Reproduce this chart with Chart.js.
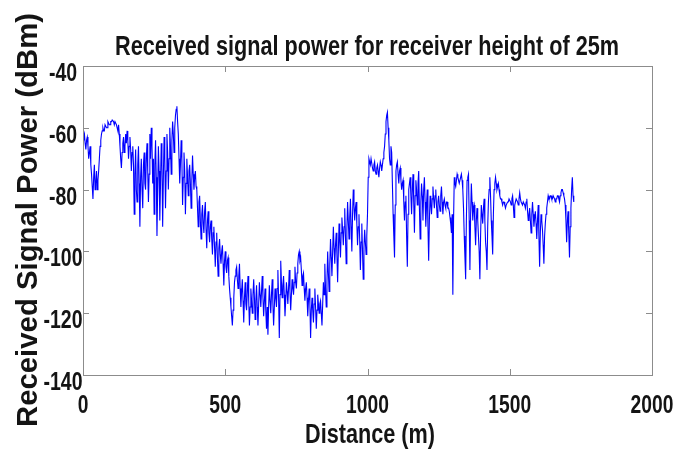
<!DOCTYPE html>
<html>
<head>
<meta charset="utf-8">
<script src="https://cdn.jsdelivr.net/npm/chart.js@4/dist/chart.umd.min.js"></script>
<style>
  html, body { margin: 0; padding: 0; background: #fff; }
  #wrap { width: 673px; height: 456px; }
</style>
</head>
<body>
<div id="wrap"><canvas id="signal"></canvas></div>
<script>
// measurement run: one sample every 2.5 m starting at 0 m
const startDistance = 0;
const sampleSpacing = 2.5;

// received power in dBm, 20 samples (50 m) per row
const receivedPower = [
  -64, -63, -62, -65, -67, -64, -63, -66, -70, -68, -66, -72, -75, -79, -83, -76, -72, -80, -78, -74,                 // 0
  -80, -77, -74, -70, -66, -64, -62, -61, -60, -61, -61, -59, -59, -60, -60, -58, -58.5, -59, -59, -58,               // 50
  -58, -57.5, -57.5, -58, -59, -58, -58, -59, -60, -61, -59, -62, -66, -70, -73, -68, -65, -63, -68, -66,             // 100
  -62, -65, -61, -64, -70, -66, -63, -67, -74, -68, -66, -72, -88, -75, -67, -80, -84, -72, -66, -78,                 // 150
  -92, -76, -70, -80, -86, -72, -68, -78, -80, -70, -65, -74, -84, -75, -62, -70, -60, -66, -78, -70,                 // 200
  -88, -72, -64, -76, -95, -80, -66, -74, -90, -78, -65, -72, -92, -76, -63, -70, -86, -74, -62, -68,                 // 250
  -80, -70, -60, -66, -75, -64, -58, -62, -68, -60, -56, -54, -53, -58, -62, -70, -78, -72, -64, -70,                 // 300
  -85, -76, -68, -74, -88, -78, -70, -76, -82, -74, -72, -78, -86, -77, -69, -75, -80, -76, -74, -79,                 // 350
  -80, -86, -92, -84, -82, -90, -96, -88, -85, -91, -94, -87, -84, -93, -99, -90, -87, -94, -97, -92,                 // 400
  -90, -96, -101, -94, -92, -99, -105, -97, -94, -102, -108, -99, -96, -101, -104, -100, -98, -104, -111, -103,       // 450
  -100, -105, -107, -103, -102, -108, -112, -115, -118, -121, -124, -119, -115, -110, -108, -106, -105, -109, -112, -108, // 500
  -104, -112, -118, -113, -109, -116, -123, -115, -110, -117, -119, -113, -108, -116, -124, -118, -112, -116, -120, -114, // 550
  -109, -115, -122, -116, -111, -118, -124, -117, -110, -114, -118, -113, -108, -115, -121, -116, -112, -119, -125, -118, // 600
  -127, -118, -111, -116, -120, -114, -109, -117, -124, -118, -112, -115, -118, -112, -106, -115, -128, -114, -103, -110, // 650
  -115, -111, -108, -114, -121, -116, -110, -113, -117, -112, -106, -113, -119, -114, -109, -112, -114, -110, -105, -110, // 700
  -112, -107, -104, -101, -100, -103, -102, -106, -111, -108, -107, -112, -116, -112, -110, -115, -121, -116, -112, -117, // 750
  -128, -119, -115, -119, -123, -117, -112, -118, -125, -119, -114, -117, -120, -117, -116, -120, -124, -117, -110, -114, // 800
  -104, -112, -118, -110, -100, -107, -113, -104, -96, -102, -108, -100, -92, -99, -104, -98, -94, -101, -110, -100,     // 850
  -91, -97, -102, -94, -89, -93, -98, -92, -86, -95, -104, -93, -84, -90, -96, -89, -83, -92, -100, -88,                // 900
  -80, -85, -90, -86, -84, -91, -98, -92, -88, -96, -106, -97, -91, -100, -109, -99, -93, -97, -101, -95,               // 950
  -88, -76, -70, -71, -72, -70, -70, -73, -74, -72, -71, -74, -75, -73, -72, -74, -76, -73, -71, -72,                   // 1000
  -74, -72, -70, -68, -66, -62, -58, -56, -55, -60, -64, -70, -72, -66, -68, -78, -88, -95, -102, -85,                  // 1050
  -74, -72, -71, -75, -78, -74, -73, -77, -80, -78, -77, -84, -90, -84, -82, -95, -105, -88, -80, -78,                  // 1100
  -76, -82, -88, -80, -75, -84, -94, -82, -77, -80, -85, -78, -74, -86, -96, -84, -78, -82, -90, -80,                   // 1150
  -76, -84, -92, -85, -80, -92, -103, -90, -82, -85, -88, -83, -79, -83, -86, -82, -80, -85, -89, -84,                  // 1200
  -82, -85, -87, -82, -79, -84, -88, -84, -83, -85, -86, -84, -84, -86, -86, -87, -89, -91, -94, -88,                   // 1250
  -114, -90, -76, -78, -79, -77, -75, -76, -77, -78, -78, -76, -75, -77, -80, -86, -95, -102, -109, -90,                // 1300
  -77, -76, -75, -90, -106, -88, -78, -84, -90, -86, -85, -92, -98, -90, -86, -90, -95, -100, -109, -95,                // 1350
  -85, -88, -91, -86, -83, -90, -97, -100, -106, -92, -84, -80, -76, -82, -90, -95, -101, -88, -80, -78,                // 1400
  -76, -78, -80, -79, -78, -80, -82, -83, -83, -84, -85, -84, -84, -85, -86, -85, -85, -84, -84, -83,                   // 1450
  -83, -84, -85, -83, -82, -85, -89, -85, -84, -83, -83, -84, -85, -83, -81, -83, -84, -84, -85, -84,                   // 1500
  -84, -85, -86, -84, -83, -87, -90, -88, -86, -90, -94, -88, -84, -88, -92, -89, -87, -91, -96, -90,                   // 1550
  -85, -95, -105, -94, -88, -90, -93, -98, -104, -95, -91, -88, -86, -84, -82, -83, -83, -82, -82, -83,                 // 1600
  -83, -82, -82, -83, -84, -83, -83, -82, -82, -83, -84, -82, -81, -80, -80, -81, -82, -83, -85, -90,                   // 1650
  -97, -90, -87, -94, -102, -92, -86, -80, -76, -82, -84                                                                // 1700
];

const xTicks = [0, 500, 1000, 1500, 2000];
const yTicks = [-140, -120, -100, -80, -60, -40];
const chartTitle = 'Received signal power for receiver height of 25m';
const xTitle = 'Distance (m)';
const yTitle = 'Received Signal Power (dBm)';

const points = receivedPower.map((p, i) => ({ x: startDistance + i * sampleSpacing, y: p }));

const sans = "'Liberation Sans', Arial, sans-serif";

// write text squeezed sideways (the figure uses a condensed face)
function putText(ctx, str, x, y, size, align, squeeze, fitWidth) {
  ctx.save();
  ctx.font = 'bold ' + size + 'px ' + sans;
  ctx.textAlign = align;
  ctx.textBaseline = 'alphabetic';
  let k = squeeze;
  if (fitWidth) k = fitWidth / ctx.measureText(str).width;
  ctx.translate(x, y);
  ctx.scale(k, 1);
  ctx.fillText(str, 0, 0);
  ctx.restore();
}

// MATLAB style box, inward ticks and all the text
const boxPlugin = {
  id: 'box',
  afterDraw(chart) {
    const ctx = chart.ctx;
    const a = chart.chartArea;
    const sx = chart.scales.x, sy = chart.scales.y;
    ctx.save();
    ctx.strokeStyle = '#8c8c8c';
    ctx.lineWidth = 1;
    ctx.strokeRect(Math.round(a.left) + 0.5, Math.round(a.top) + 0.5,
                   Math.round(a.right - a.left), Math.round(a.bottom - a.top));
    ctx.beginPath();
    xTicks.slice(1, -1).forEach(v => {
      const px = Math.round(sx.getPixelForValue(v)) + 0.5;
      ctx.moveTo(px, a.bottom); ctx.lineTo(px, a.bottom - 6);
      ctx.moveTo(px, a.top); ctx.lineTo(px, a.top + 6);
    });
    yTicks.slice(1, -1).forEach(v => {
      const py = Math.round(sy.getPixelForValue(v)) + 0.5;
      ctx.moveTo(a.left, py); ctx.lineTo(a.left + 6, py);
      ctx.moveTo(a.right, py); ctx.lineTo(a.right - 6, py);
    });
    ctx.stroke();

    ctx.fillStyle = '#141414';
    putText(ctx, chartTitle, 367, 55, 28, 'center', 1, 504);
    xTicks.forEach(v => putText(ctx, String(v), sx.getPixelForValue(v), 413, 25, 'center', 0.77));
    yTicks.forEach(v => putText(ctx, String(v), 63, sy.getPixelForValue(v) + 15, 25, 'center', 0.78));
    putText(ctx, xTitle, 370, 443, 28, 'center', 1, 130);

    // y title, reads bottom to top
    ctx.font = 'bold 30px ' + sans;
    const len = ctx.measureText(yTitle).width;
    ctx.translate(37, 220);
    ctx.rotate(-Math.PI / 2);
    ctx.scale(414 / len, 1);
    ctx.textAlign = 'center';
    ctx.textBaseline = 'alphabetic';
    ctx.fillText(yTitle, 0, 0);
    ctx.restore();
  }
};

new Chart(document.getElementById('signal'), {
  type: 'line',
  data: {
    datasets: [{
      data: points,
      borderColor: '#0000ff',
      borderWidth: 1.1,
      pointRadius: 0,
      tension: 0,
      fill: false
    }]
  },
  options: {
    responsive: true,
    maintainAspectRatio: false,
    animation: false,
    layout: { padding: { left: 0, right: 21, top: 66, bottom: 0 } },
    plugins: {
      legend: { display: false },
      tooltip: { enabled: false },
      title: { display: false }
    },
    scales: {
      x: {
        type: 'linear',
        min: 0,
        max: 2000,
        afterFit: s => { s.height = 81; },
        afterBuildTicks: s => { s.ticks = xTicks.map(v => ({ value: v })); },
        grid: { display: false, drawTicks: false },
        border: { display: false },
        ticks: { display: false }
      },
      y: {
        min: -140,
        max: -40,
        afterFit: s => { s.width = 83; },
        afterBuildTicks: s => { s.ticks = yTicks.map(v => ({ value: v })); },
        grid: { display: false, drawTicks: false },
        border: { display: false },
        ticks: { display: false }
      }
    }
  },
  plugins: [boxPlugin]
});
</script>
</body>
</html>
